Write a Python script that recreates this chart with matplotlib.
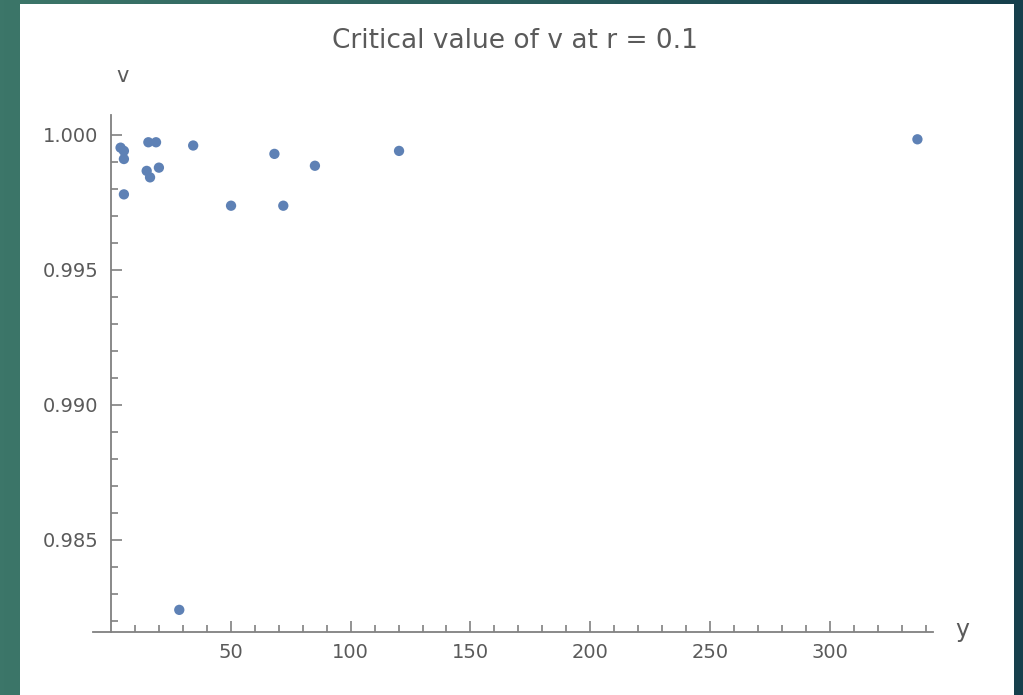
import numpy as np
import matplotlib
matplotlib.use("Agg")
import matplotlib.pyplot as plt
from matplotlib.patches import Rectangle
from matplotlib.colors import LinearSegmentedColormap
from matplotlib.ticker import MultipleLocator, FixedLocator

# ---- data ----
y_vals = [4.0, 5.4, 5.4, 15.6, 18.8, 34.3, 14.9, 16.3, 20.0, 5.4,
          68.2, 85.1, 120.2, 50.1, 71.9, 336.5, 28.5]
v_vals = [0.99953, 0.99941, 0.99911, 0.99973, 0.99973, 0.99961, 0.99867,
          0.99843, 0.99879, 0.99780, 0.99930, 0.99886, 0.99941, 0.99738,
          0.99738, 0.99984, 0.98241]
x_major = [50, 100, 150, 200, 250, 300]
x_minor = [10, 20, 30, 40, 60, 70, 80, 90, 110, 120, 130, 140, 160, 170, 180,
           190, 210, 220, 230, 240, 260, 270, 280, 290, 310, 320, 330, 340]
v_major = [0.985, 0.990, 0.995, 1.000]
v_minor = [0.982, 0.983, 0.984, 0.986, 0.987, 0.988, 0.989, 0.991, 0.992,
           0.993, 0.994, 0.996, 0.997, 0.998, 0.999]
title_text = "Critical value of v at r = 0.1"

W, H = 1023, 695
fig = plt.figure(figsize=(W / 100, H / 100), dpi=100)

# background gradient
bg = fig.add_axes([0, 0, 1, 1])
cmap = LinearSegmentedColormap.from_list("bg", ["#3c7669", "#2a5d5c", "#163f4c"])
grad = np.linspace(0, 1, 256).reshape(1, -1)
bg.imshow(grad, aspect="auto", cmap=cmap, extent=[0, 1, 0, 1])
bg.set_axis_off()

# white panel
fig.patches.append(Rectangle((20 / W, 0), (1014 - 20) / W, (H - 4) / H,
                             transform=fig.transFigure, facecolor="white",
                             edgecolor="none", zorder=1))

ax = fig.add_axes([93 / W, 1 - 632 / H, (933 - 93) / W, (632 - 115) / H])
ax.set_zorder(5)
ax.patch.set_alpha(0)

ax.scatter(y_vals, v_vals, s=55, color="#5e81b5", edgecolors="none", zorder=3)

ax.set_xlim(-7.5, 343)
ax.set_ylim(0.98159, 1.00074)

axis_col = "#808080"
for side in ["top", "right"]:
    ax.spines[side].set_visible(False)
ax.spines["left"].set_position(("data", 0))
for side in ["left", "bottom"]:
    ax.spines[side].set_color(axis_col)
    ax.spines[side].set_linewidth(1.3)

ax.xaxis.set_major_locator(FixedLocator(x_major))
ax.xaxis.set_minor_locator(FixedLocator(x_minor))
ax.yaxis.set_major_locator(FixedLocator(v_major))
ax.yaxis.set_minor_locator(FixedLocator(v_minor))
ax.set_yticklabels([f"{v:.3f}" for v in v_major])
ax.set_xticklabels([str(x) for x in x_major])

ax.tick_params(which="both", direction="in", color=axis_col, width=1.2,
               labelsize=14, labelcolor="#5a5a5a")
ax.tick_params(which="major", length=8)
ax.tick_params(which="minor", length=5)
ax.tick_params(axis="x", pad=8)
ax.tick_params(axis="y", pad=9)

fig.text(515 / W, 1 - 41 / H, title_text, ha="center", va="center",
         fontsize=19, color="#5a5a5a", zorder=6)
fig.text(123 / W, 1 - 76 / H, "v", ha="center", va="center",
         fontsize=15, color="#5a5a5a", zorder=6)
fig.text(962 / W, 1 - 630 / H, "y", ha="center", va="center",
         fontsize=17, color="#5a5a5a", zorder=6)

fig.savefig("out.png", dpi=100)
